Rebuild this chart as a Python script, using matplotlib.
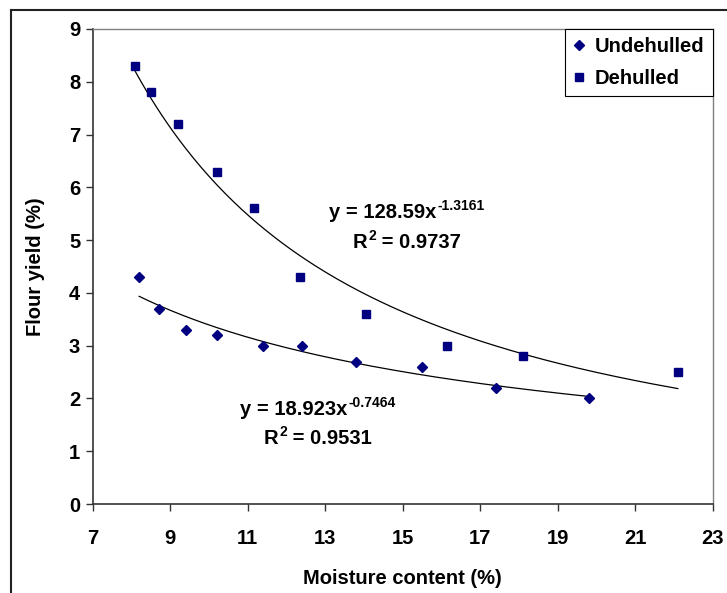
import numpy as np
import matplotlib
matplotlib.use("Agg")
import matplotlib.pyplot as plt
from matplotlib.lines import Line2D

plt.rcParams['font.family'] = ['Liberation Sans', 'DejaVu Sans']
plt.rcParams['font.weight'] = 'bold'

# Data
undehulled_x = [8.2, 8.7, 9.4, 10.2, 11.4, 12.4, 13.8, 15.5, 17.4, 19.8]
undehulled_y = [4.3, 3.7, 3.3, 3.2, 3.0, 3.0, 2.7, 2.6, 2.2, 2.0]
dehulled_x = [8.1, 8.5, 9.2, 10.2, 11.15, 12.35, 14.05, 16.15, 18.1, 22.1]
dehulled_y = [8.3, 7.8, 7.2, 6.3, 5.6, 4.3, 3.6, 3.0, 2.8, 2.5]

# Power trendline coefficients (as shown on chart)
und_a, und_b, und_r2 = 18.923, -0.7464, 0.9531
deh_a, deh_b, deh_r2 = 128.59, -1.3161, 0.9737

x_ticks = [7, 9, 11, 13, 15, 17, 19, 21, 23]
y_ticks = [0, 1, 2, 3, 4, 5, 6, 7, 8, 9]

W, H = 727, 593
fig = plt.figure(figsize=(W / 100, H / 100), dpi=100)
ax = fig.add_axes([92.7 / W, (H - 504) / H, (712.7 - 92.7) / W, (504 - 29) / H])

navy = '#000080'
ax.plot(undehulled_x, undehulled_y, linestyle='none', marker='D', ms=5.5,
        color=navy, mec=navy, label='Undehulled', zorder=3)
ax.plot(dehulled_x, dehulled_y, linestyle='none', marker='s', ms=6,
        color=navy, mec=navy, label='Dehulled', zorder=3)

xu = np.linspace(min(undehulled_x), max(undehulled_x), 200)
ax.plot(xu, und_a * xu ** und_b, color='black', lw=0.9, zorder=2)
xd = np.linspace(min(dehulled_x), max(dehulled_x), 200)
ax.plot(xd, deh_a * xd ** deh_b, color='black', lw=0.9, zorder=2)

FS = 14.5
ax.set_xlim(7, 23)
ax.set_ylim(0, 9)
ax.set_xticks(x_ticks)
ax.set_yticks(y_ticks)
ax.set_xticklabels([str(t) for t in x_ticks], fontweight='bold', fontsize=FS)
ax.set_yticklabels([str(t) for t in y_ticks], fontweight='bold', fontsize=FS)
ax.tick_params(axis='x', direction='out', length=5, width=1, colors='#333333',
               labelcolor='black', pad=13)
ax.tick_params(axis='y', direction='out', length=5, width=1, colors='#333333',
               labelcolor='black', pad=4)

for s in ['left', 'bottom']:
    ax.spines[s].set_color('#333333')
    ax.spines[s].set_linewidth(1.2)
for s in ['top', 'right']:
    ax.spines[s].set_color('#808080')
    ax.spines[s].set_linewidth(1.0)

ax.set_xlabel('Moisture content (%)', fontweight='bold', fontsize=FS, labelpad=15)
ax.set_ylabel('Flour yield (%)', fontweight='bold', fontsize=FS, labelpad=17)

leg = ax.legend(loc='upper right', bbox_to_anchor=(1.0, 1.0), frameon=True,
                fancybox=False, edgecolor='black', framealpha=1,
                prop={'weight': 'bold', 'size': FS}, handlelength=0.6,
                handletextpad=0.5, borderpad=0.4, labelspacing=0.65,
                borderaxespad=0)
leg.get_frame().set_linewidth(0.8)

SUP = 10


def sup_text(x, y, base, sup, after=''):
    """Draw base text with a superscript, centred at (x, y) in data coords."""
    t1 = ax.text(0, 0, base, fontsize=FS, fontweight='bold', va='baseline')
    t2 = ax.text(0, 0, sup, fontsize=SUP, fontweight='bold', va='baseline')
    t3 = ax.text(0, 0, after, fontsize=FS, fontweight='bold', va='baseline')
    fig.canvas.draw()
    r = fig.canvas.get_renderer()
    w1 = t1.get_window_extent(r).width
    w2 = t2.get_window_extent(r).width
    w3 = t3.get_window_extent(r).width if after else 0
    total = w1 + w2 + w3
    cx, cy = ax.transData.transform((x, y))
    x0 = cx - total / 2
    base_y = cy - 7  # baseline about half cap height below centre
    inv = ax.transData.inverted()
    t1.set_position(inv.transform((x0, base_y)))
    t2.set_position(inv.transform((x0 + w1 + 1, base_y + 8)))
    t3.set_position(inv.transform((x0 + w1 + w2 + 1, base_y)))


sup_text(15.1, 5.55, 'y = 128.59x', '-1.3161')
sup_text(15.1, 4.98, 'R', '2', ' = %.4f' % deh_r2)
sup_text(12.8, 1.82, 'y = 18.923x', '-0.7464')
sup_text(12.8, 1.27, 'R', '2', ' = %.4f' % und_r2)

# outer chart border (left and top visible)
fig.add_artist(Line2D([11 / W, 11 / W], [0, 1 - 9.5 / H], transform=fig.transFigure,
                      color='#222222', lw=1.5))
fig.add_artist(Line2D([11 / W, 1], [1 - 9.5 / H, 1 - 9.5 / H], transform=fig.transFigure,
                      color='#222222', lw=1.5))

fig.savefig('out.png', dpi=100)
